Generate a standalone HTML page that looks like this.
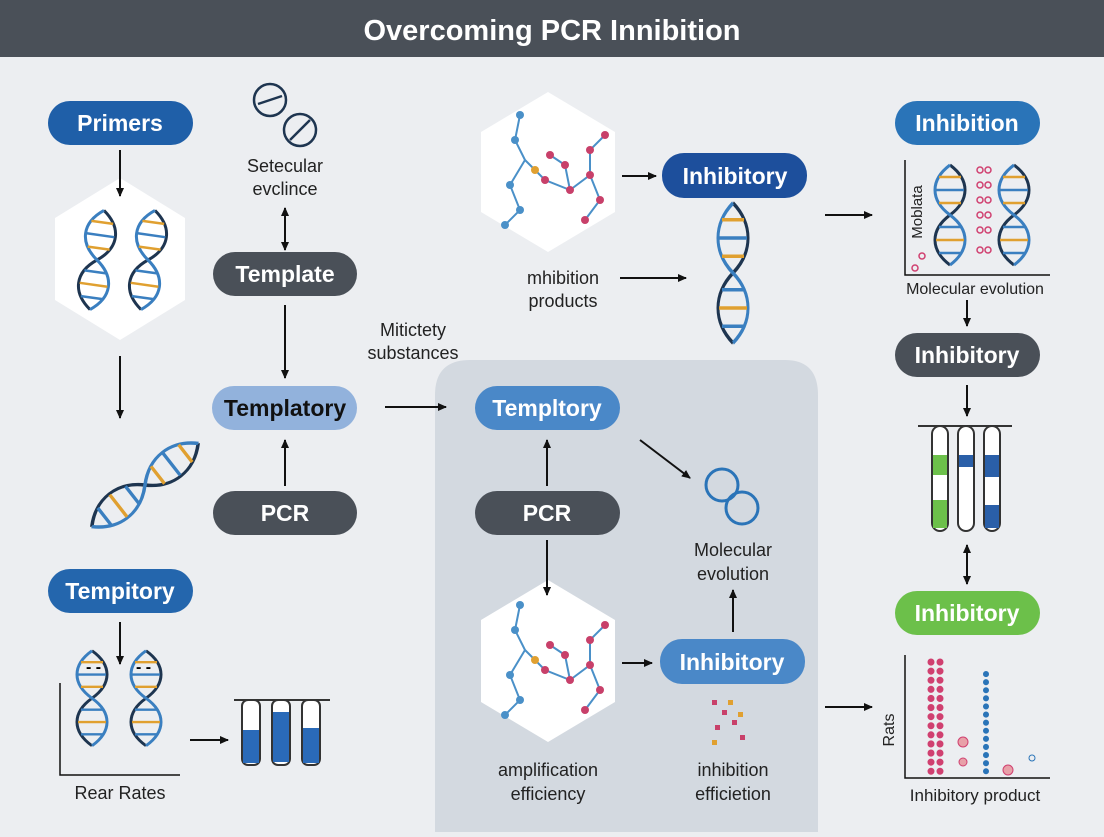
<!DOCTYPE html>
<html><head><meta charset="utf-8"><style>
body{margin:0;width:1104px;height:832px;overflow:hidden;background:#eceef1;font-family:"Liberation Sans",sans-serif}
</style></head><body>
<svg width="1104" height="832" viewBox="0 0 1104 832" xmlns="http://www.w3.org/2000/svg" font-family="Liberation Sans, sans-serif">
<defs>
<marker id="a" markerWidth="10" markerHeight="10" refX="8" refY="5" orient="auto" markerUnits="userSpaceOnUse"><path d="M0,1 L9,5 L0,9 Z" fill="#111"/></marker>
<marker id="b" markerWidth="10" markerHeight="10" refX="1" refY="5" orient="auto" markerUnits="userSpaceOnUse"><path d="M9,1 L0,5 L9,9 Z" fill="#111"/></marker>
<g id="helix">
<path d="M0,0 C20,15 20,35 0,50 C-20,65 -20,85 0,100" fill="none" stroke="#1e3550" stroke-width="3"/>
<path d="M0,0 C-20,15 -20,35 0,50 C20,65 20,85 0,100" fill="none" stroke="#3a7fc0" stroke-width="3"/>
<g stroke-width="2.5"><line x1="-11" y1="12" x2="11" y2="12" stroke="#e0a030"/><line x1="-14" y1="25" x2="14" y2="25" stroke="#3a7fc0"/><line x1="-11" y1="38" x2="11" y2="38" stroke="#e0a030"/><line x1="-11" y1="62" x2="11" y2="62" stroke="#3a7fc0"/><line x1="-14" y1="75" x2="14" y2="75" stroke="#e0a030"/><line x1="-11" y1="88" x2="11" y2="88" stroke="#3a7fc0"/></g>
</g>
<g id="mol" stroke="#4a90c8" stroke-width="2" fill="none">
<path d="M40,20 L35,45 L45,65 L30,90 L40,115 L25,130 M45,65 L65,85 L90,95 L110,80 L110,55 L125,40 M110,80 L120,105 L105,125 M90,95 L85,70 L70,60"/>
<g fill="#4a90c8" stroke="none"><circle cx="40" cy="20" r="4"/><circle cx="35" cy="45" r="4"/><circle cx="30" cy="90" r="4"/><circle cx="25" cy="130" r="4"/><circle cx="40" cy="115" r="4"/></g>
<g fill="#c8406a" stroke="none"><circle cx="65" cy="85" r="4"/><circle cx="90" cy="95" r="4"/><circle cx="110" cy="80" r="4"/><circle cx="110" cy="55" r="4"/><circle cx="125" cy="40" r="4"/><circle cx="120" cy="105" r="4"/><circle cx="105" cy="125" r="4"/><circle cx="85" cy="70" r="4"/><circle cx="70" cy="60" r="4"/></g>
<circle cx="55" cy="75" r="4" fill="#e0a030" stroke="none"/>
</g>
</defs>
<rect x="0" y="0" width="1104" height="57" fill="#4a5058"/>
<text x="552" y="40" text-anchor="middle" fill="#fff" font-size="29" font-weight="bold">Overcoming PCR Innibition</text>
<path d="M435,832 V395 Q435,360 470,360 H785 Q818,360 818,395 V832 Z" fill="#d3d9e0"/>

<polygon points="120,178 185,218 185,300 120,340 55,300 55,218" fill="#fff"/>
<polygon points="548,92 615,132 615,212 548,252 481,212 481,132" fill="#fff"/>
<polygon points="548,580 615,620 615,702 548,742 481,702 481,620" fill="#fff"/>
<use href="#helix" x="97" y="210" transform="rotate(8 97 260)"/>
<use href="#helix" x="148" y="210" transform="rotate(8 148 260)"/>
<use href="#mol" x="480" y="95"/>
<use href="#mol" x="480" y="585"/>
<use href="#helix" x="733" y="205" transform="scale(1 1.4) translate(0 -60)"/>
<g transform="translate(145,485) rotate(52) scale(1 1.35) translate(0,-50)"><use href="#helix"/></g>
<use href="#helix" x="950" y="165"/>
<use href="#helix" x="1014" y="165"/>
<use href="#helix" x="92" y="685" transform="scale(1 0.95)"/>
<use href="#helix" x="146" y="685" transform="scale(1 0.95)"/>

<circle cx="270" cy="100" r="16" fill="none" stroke="#1e3550" stroke-width="2.5"/><line x1="258" y1="104" x2="282" y2="96" stroke="#1e3550" stroke-width="2.5"/>
<circle cx="300" cy="130" r="16" fill="none" stroke="#1e3550" stroke-width="2.5"/><line x1="290" y1="140" x2="310" y2="120" stroke="#1e3550" stroke-width="2.5"/>
<circle cx="722" cy="485" r="16" fill="none" stroke="#2a74b8" stroke-width="3"/><circle cx="742" cy="508" r="16" fill="none" stroke="#2a74b8" stroke-width="3"/>

<path d="M905,160 V275 H1050" stroke="#111" stroke-width="1.5" fill="none"/>
<g fill="none" stroke="#d04070" stroke-width="1.5"><circle cx="980" cy="170" r="3"/><circle cx="988" cy="170" r="3"/><circle cx="980" cy="185" r="3"/><circle cx="988" cy="185" r="3"/><circle cx="980" cy="200" r="3"/><circle cx="988" cy="200" r="3"/><circle cx="980" cy="215" r="3"/><circle cx="988" cy="215" r="3"/><circle cx="980" cy="230" r="3"/><circle cx="988" cy="230" r="3"/><circle cx="980" cy="250" r="3"/><circle cx="988" cy="250" r="3"/><circle cx="915" cy="268" r="3"/><circle cx="922" cy="256" r="3"/></g>
<path d="M905,655 V778 H1050" stroke="#111" stroke-width="1.5" fill="none"/>
<g fill="none" stroke="#d04070" stroke-width="1.5">
<path d="M931,662 v110 M940,662 v110" stroke-dasharray="0.1 9" stroke-linecap="round" stroke-width="7"/>
</g>
<path d="M986,674 v100" stroke="#2a74b8" stroke-dasharray="0.1 8" stroke-linecap="round" stroke-width="6" fill="none"/>
<circle cx="963" cy="742" r="5" fill="#e8a0a8" stroke="#d04070"/><circle cx="963" cy="762" r="4" fill="#e8a0a8" stroke="#d04070"/><circle cx="1008" cy="770" r="5" fill="#e8a0a8" stroke="#d04070"/><circle cx="1032" cy="758" r="3" fill="none" stroke="#2a74b8"/>

<g stroke="#333" stroke-width="2">
<line x1="918" y1="426" x2="1012" y2="426"/>
<rect x="932" y="426" width="16" height="105" rx="8" fill="#fff"/><rect x="958" y="426" width="16" height="105" rx="8" fill="#fff"/><rect x="984" y="426" width="16" height="105" rx="8" fill="#fff"/>
<rect x="933" y="455" width="14" height="20" fill="#6cc04a" stroke="none"/><rect x="933" y="500" width="14" height="28" fill="#6cc04a" stroke="none"/>
<rect x="959" y="455" width="14" height="12" fill="#2a5fa8" stroke="none"/><rect x="985" y="455" width="14" height="22" fill="#2a5fa8" stroke="none"/><rect x="985" y="505" width="14" height="23" fill="#2a5fa8" stroke="none"/>
<line x1="234" y1="700" x2="330" y2="700"/>
<rect x="242" y="700" width="18" height="65" rx="6" fill="#fff"/><rect x="272" y="700" width="18" height="65" rx="6" fill="#fff"/><rect x="302" y="700" width="18" height="65" rx="6" fill="#fff"/>
<rect x="243" y="730" width="16" height="33" fill="#2a6ab8" stroke="none"/><rect x="273" y="712" width="16" height="50" fill="#2a6ab8" stroke="none"/><rect x="303" y="728" width="16" height="35" fill="#2a6ab8" stroke="none"/>
</g>
<path d="M60,683 V775 H180" stroke="#111" stroke-width="1.5" fill="none"/>
<text x="86" y="672" font-size="16" font-weight="bold">- -</text><text x="136" y="672" font-size="16" font-weight="bold">- -</text>
<g fill="#c8406a"><rect x="712" y="700" width="5" height="5"/><rect x="722" y="710" width="5" height="5"/><rect x="732" y="720" width="5" height="5"/><rect x="715" y="725" width="5" height="5"/><rect x="740" y="735" width="5" height="5"/></g>
<g fill="#e0a030"><rect x="728" y="700" width="5" height="5"/><rect x="712" y="740" width="5" height="5"/><rect x="738" y="712" width="5" height="5"/></g>

<g stroke="#111" stroke-width="2" fill="none" marker-end="url(#a)">
<line x1="120" y1="150" x2="120" y2="196"/><line x1="120" y1="356" x2="120" y2="418"/><line x1="120" y1="622" x2="120" y2="664"/>
<line x1="190" y1="740" x2="228" y2="740"/>
<line x1="285" y1="208" x2="285" y2="250" marker-start="url(#b)"/>
<line x1="285" y1="305" x2="285" y2="378"/><line x1="285" y1="486" x2="285" y2="440"/>
<line x1="385" y1="407" x2="446" y2="407"/>
<line x1="547" y1="486" x2="547" y2="440"/><line x1="547" y1="540" x2="547" y2="595"/>
<line x1="640" y1="440" x2="690" y2="478"/><line x1="622" y1="663" x2="652" y2="663"/>
<line x1="733" y1="632" x2="733" y2="590"/><line x1="622" y1="176" x2="656" y2="176"/><line x1="620" y1="278" x2="686" y2="278"/>
<line x1="825" y1="215" x2="872" y2="215"/><line x1="967" y1="300" x2="967" y2="326"/><line x1="967" y1="385" x2="967" y2="416"/>
<line x1="967" y1="545" x2="967" y2="584" marker-start="url(#b)"/><line x1="825" y1="707" x2="872" y2="707"/>
</g>

<g font-size="23" font-weight="bold" text-anchor="middle">
<rect x="48" y="101" width="145" height="44" rx="22" fill="#1f5fa8"/><text x="120" y="131" fill="#fff">Primers</text>
<rect x="213" y="252" width="144" height="44" rx="22" fill="#4a5058"/><text x="285" y="282" fill="#fff">Template</text>
<rect x="212" y="386" width="145" height="44" rx="22" fill="#92b2dc"/><text x="285" y="416" fill="#111">Templatory</text>
<rect x="213" y="491" width="144" height="44" rx="22" fill="#4a5058"/><text x="285" y="521" fill="#fff">PCR</text>
<rect x="48" y="569" width="145" height="44" rx="22" fill="#2466ad"/><text x="120" y="599" fill="#fff">Tempitory</text>
<rect x="662" y="153" width="145" height="45" rx="22" fill="#1d4f9c"/><text x="735" y="184" fill="#fff">Inhibitory</text>
<rect x="895" y="101" width="145" height="44" rx="22" fill="#2a74b8"/><text x="967" y="131" fill="#fff">Inhibition</text>
<rect x="895" y="333" width="145" height="44" rx="22" fill="#4a5058"/><text x="967" y="363" fill="#fff">Inhibitory</text>
<rect x="895" y="591" width="145" height="44" rx="22" fill="#6cc04a"/><text x="967" y="621" fill="#fff">Inhibitory</text>
<rect x="475" y="386" width="145" height="44" rx="22" fill="#4a88c8"/><text x="547" y="416" fill="#fff">Templtory</text>
<rect x="475" y="491" width="145" height="44" rx="22" fill="#4a5058"/><text x="547" y="521" fill="#fff">PCR</text>
<rect x="660" y="639" width="145" height="45" rx="22" fill="#4a88c8"/><text x="732" y="670" fill="#fff">Inhibitory</text>
</g>

<g font-size="18" fill="#222" text-anchor="middle">
<text x="285" y="172">Setecular</text><text x="285" y="195">evclince</text>
<text x="413" y="336">Mitictety</text><text x="413" y="359">substances</text>
<text x="563" y="284">mhibition</text><text x="563" y="307">products</text>
<text x="975" y="294" font-size="16">Molecular evolution</text>
<text x="733" y="556">Molecular</text><text x="733" y="580">evolution</text>
<text x="548" y="776">amplification</text><text x="548" y="800">efficiency</text>
<text x="733" y="776">inhibition</text><text x="733" y="800">efficietion</text>
<text x="120" y="799">Rear Rates</text>
<text x="975" y="801" font-size="17">Inhibitory product</text>
<text transform="translate(922 212) rotate(-90)" font-size="15">Moblata</text>
<text transform="translate(894 730) rotate(-90)" font-size="16">Rats</text>
</g>
</svg>
</body></html>
